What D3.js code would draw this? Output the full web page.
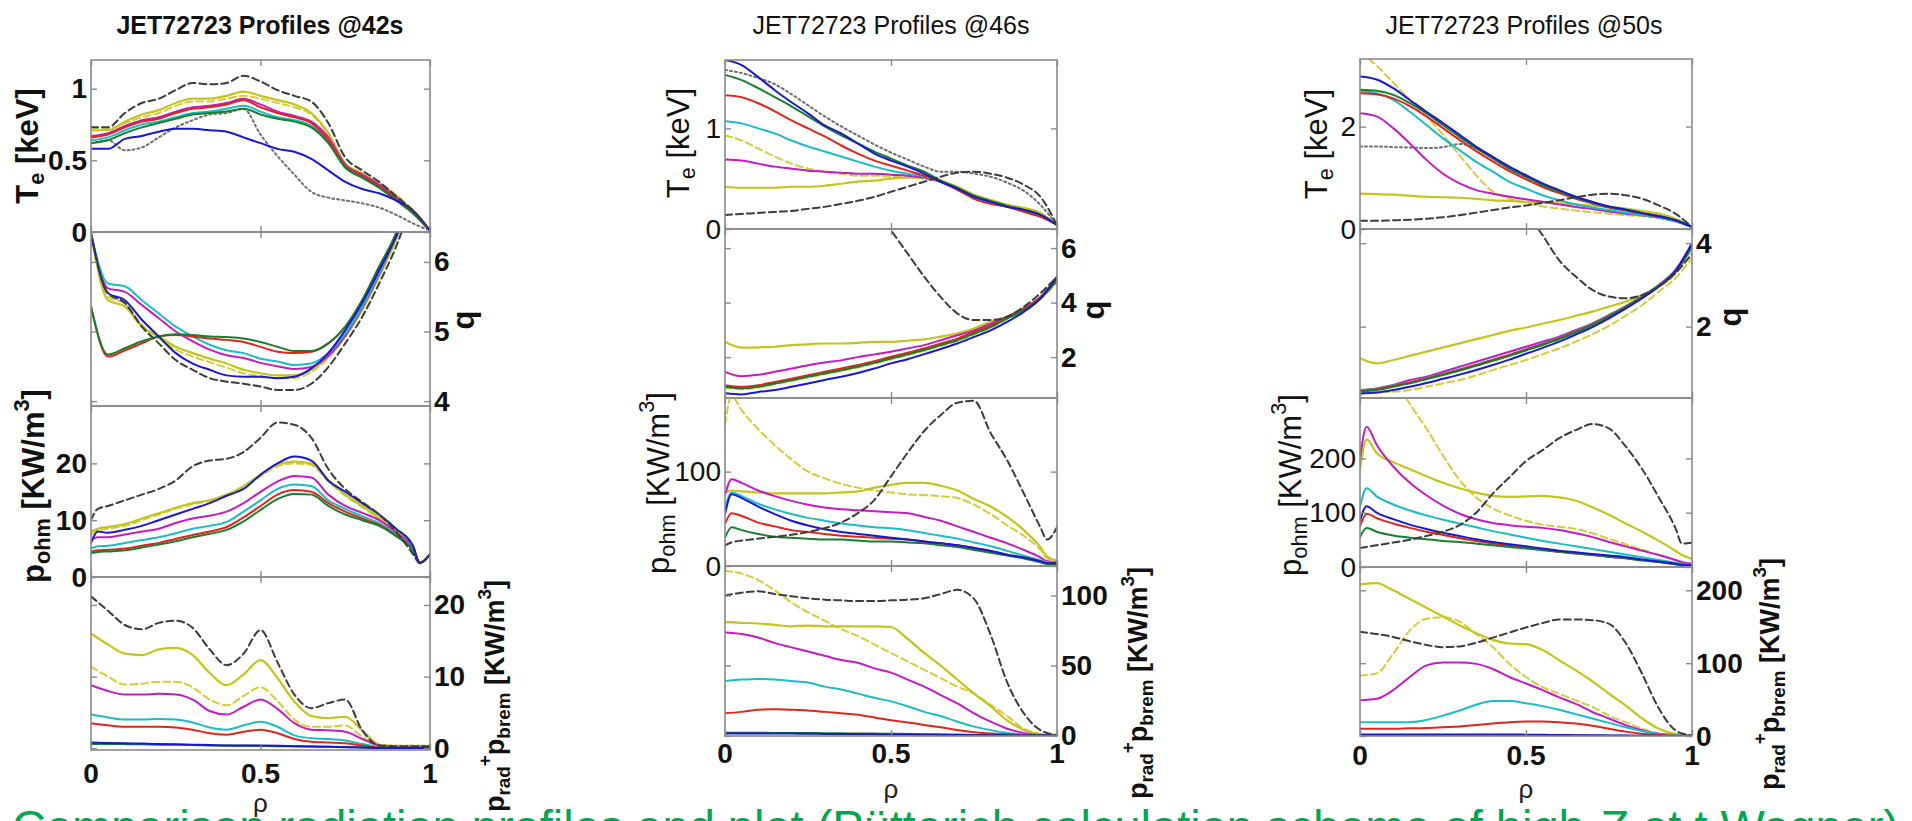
<!DOCTYPE html>
<html>
<head>
<meta charset="utf-8">
<script src="https://cdn.jsdelivr.net/npm/d3@7"></script>
<style>
  body { margin: 0; background: #fff; }
  svg { display: block; font-family: "Liberation Sans", Arial, sans-serif; }
  text { white-space: pre; }
</style>
</head>
<body>
<svg id="fig" width="1912" height="821"></svg>
<script>
// ---------- radial grids (normalised radius rho) ----------
const rhoA = [0,0.05,0.1,0.15,0.2,0.25,0.3,0.35,0.4,0.45,0.5,0.55,0.6,0.65,0.7,0.75,0.8,0.85,0.9,0.95,1];
const rhoP = [0,0.02,0.05,0.1,0.15,0.2,0.25,0.3,0.35,0.4,0.45,0.5,0.55,0.6,0.65,0.7,0.75,0.8,0.85,0.9,0.95,0.97,1];

// ---------- t = 42 s ----------
const te42 = {
  dotted:  [.62,.64,.57,.59,.66,.73,.78,.82,.83,.86,.68,.53,.40,.28,.24,.22,.20,.17,.12,.06,.01],
  ydash:   [.73,.72,.76,.80,.83,.88,.91,.91,.93,.95,.93,.90,.87,.82,.68,.47,.41,.34,.26,.15,.01],
  yellow:  [.71,.71,.77,.82,.85,.90,.93,.93,.95,.98,.95,.92,.89,.83,.69,.48,.41,.33,.25,.14,.01],
  magenta: [.67,.69,.74,.78,.80,.84,.87,.88,.90,.93,.89,.84,.81,.77,.66,.47,.40,.33,.24,.13,.01],
  cyan:    [.64,.66,.71,.75,.77,.80,.83,.84,.86,.88,.84,.80,.78,.74,.63,.45,.38,.31,.23,.13,.01],
  red:     [.66,.68,.73,.77,.79,.83,.86,.87,.89,.92,.87,.83,.80,.76,.64,.46,.39,.32,.23,.13,.01],
  green:   [.62,.64,.69,.73,.76,.79,.82,.83,.84,.86,.82,.79,.77,.73,.62,.45,.38,.31,.22,.13,.01],
  blue:    [.58,.58,.65,.67,.70,.72,.72,.71,.70,.66,.62,.58,.56,.51,.43,.35,.30,.27,.22,.15,.01],
  black:   [.73,.73,.83,.90,.93,.99,1.04,1.03,1.04,1.09,1.05,.99,.95,.91,.76,.52,.43,.35,.25,.15,.01]
};
const q42 = {
  ydash:   [6.41,5.50,5.40,5.10,4.90,4.74,4.64,4.56,4.48,4.40,4.36,4.33,4.33,4.42,4.62,4.92,5.31,5.80,6.33,7.0,7.8],
  yellow:  [6.41,5.45,5.36,5.07,4.93,4.78,4.69,4.61,4.54,4.45,4.40,4.37,4.37,4.45,4.64,4.93,5.31,5.79,6.32,7.0,7.8],
  magenta: [6.41,5.62,5.57,5.38,5.19,5.00,4.86,4.74,4.66,4.62,4.55,4.50,4.46,4.49,4.65,4.94,5.34,5.82,6.40,7.1,7.9],
  cyan:    [6.41,5.69,5.65,5.45,5.26,5.07,4.93,4.81,4.73,4.69,4.61,4.57,4.52,4.54,4.69,4.97,5.36,5.84,6.41,7.1,7.9],
  red:     [5.36,4.64,4.73,4.83,4.93,4.95,4.93,4.90,4.88,4.85,4.78,4.71,4.69,4.71,4.83,5.07,5.45,5.93,6.41,7.1,7.9],
  green:   [5.36,4.67,4.76,4.86,4.93,4.96,4.95,4.93,4.92,4.90,4.85,4.78,4.72,4.72,4.83,5.07,5.45,5.93,6.41,7.1,7.9],
  blue:    [6.41,5.55,5.45,5.17,4.93,4.69,4.54,4.45,4.37,4.35,4.35,4.33,4.35,4.47,4.69,5.02,5.41,5.88,6.36,7.0,7.8],
  black:   [6.41,5.55,5.41,5.07,4.83,4.59,4.45,4.33,4.28,4.25,4.21,4.16,4.16,4.25,4.49,4.83,5.21,5.69,6.22,6.9,7.7]
};
const pohm42 = {
  ydash:   [7.5,8.2,8.5,9,10,11,12,12.8,13.4,14.3,15.8,17.7,19.5,20,19.7,16.8,14.3,12.3,10.3,8,5.2,2.5,4],
  yellow:  [8,8.5,8.8,9.3,10.3,11.2,12.2,13,13.5,14.5,16,18,19.8,20.3,20,17,14.5,12.5,10.5,8.2,5.3,2.5,4],
  magenta: [6.5,7,7,7.5,8,8.5,9.5,10.3,10.8,11.5,13,15,16.8,17.8,17.5,14.5,12.5,11.3,10,7.8,5,2.5,4],
  cyan:    [5,5.4,5.5,6,6.5,7,7.7,8.5,9,9.7,11.5,13.5,15.5,16.3,16,13.5,12,10.7,9.5,7.5,4.8,2.5,4],
  red:     [4.5,4.7,4.8,5,5.5,6,6.7,7.4,8,8.8,10.5,12.5,14.5,15.3,15,13,11.5,10.3,9.2,7.3,4.7,2.5,4],
  green:   [4.2,4.4,4.5,4.7,5.2,5.7,6.3,7,7.6,8.3,9.8,11.8,13.7,14.6,14.5,12.5,11,10,9,7.2,4.6,2.5,4],
  blue:    [6,8,7.8,8.3,9,10,11,12,13,14.3,15.5,18,20,21.2,20.5,17,15,13,11,8.5,5.5,2.5,4],
  black:   [10,12,12.5,13.5,14.5,15.5,17,19.5,20.5,20.8,22,24.5,27.2,26.8,24.5,19,15.5,13.2,11,8,4,2.4,4]
};
const prad42 = {
  ydash:   [11.4,10,8.9,9,9.3,9.3,8.5,6.8,6,7.3,8.5,6.6,4,3,3,3.2,1.6,.5,.4,.4,.4],
  yellow:  [16,14.5,13.2,13,13.8,14,13,10.5,8.8,10.3,12.3,9.8,6.5,4.5,4.2,4.4,2.5,.5,.2,.2,.2],
  magenta: [8.8,8,7.5,7.5,7.6,7.5,6.8,5.2,4.7,5.8,6.8,5.5,3.5,2.6,2.5,2.3,1.3,.4,.2,.2,.2],
  cyan:    [4.7,4.3,4,4,4.1,4,3.6,2.9,2.6,3.2,3.7,3,1.8,1.4,1.3,1.1,.6,.2,.1,.1,.1],
  red:     [3.5,3.2,3,3,3,2.9,2.6,2.1,1.9,2.3,2.6,2.1,1.3,.9,.8,.7,.4,.1,.05,.05,.05],
  green:   [.6,.6,.58,.55,.5,.48,.45,.4,.38,.35,.33,.3,.28,.25,.22,.18,.12,.06,.05,.05,.05],
  blue:    [.8,.75,.7,.65,.6,.55,.5,.45,.4,.4,.38,.35,.3,.25,.2,.15,.1,.05,.05,.05,.05],
  black:   [21.2,19.2,17.2,16.6,17.5,17.8,16.8,13.8,11.6,13.2,16.5,12,7.5,5.6,6.3,6.8,2.5,.4,.3,.3,.3]
};

// ---------- t = 46 s ----------
const te46 = {
  dotted:  [1.58,1.55,1.50,1.44,1.34,1.23,1.12,1.02,.93,.84,.76,.69,.62,.57,.57,.55,.52,.46,.38,.24,.04],
  ydash:   [.93,.88,.80,.72,.65,.60,.57,.55,.53,.53,.52,.52,.50,.47,.41,.33,.28,.24,.20,.14,.04],
  yellow:  [.42,.41,.41,.41,.42,.42,.43,.45,.47,.48,.50,.51,.51,.48,.42,.34,.29,.24,.21,.16,.04],
  magenta: [.69,.68,.65,.62,.60,.58,.57,.56,.55,.55,.54,.53,.51,.47,.40,.32,.27,.23,.19,.14,.04],
  cyan:    [1.07,1.05,1.0,.95,.88,.82,.77,.72,.67,.62,.58,.55,.52,.47,.40,.31,.26,.22,.18,.13,.04],
  red:     [1.33,1.31,1.25,1.17,1.08,1.0,.92,.83,.75,.68,.63,.58,.53,.47,.39,.30,.25,.22,.17,.12,.04],
  green:   [1.53,1.48,1.40,1.31,1.22,1.12,1.02,.93,.85,.77,.70,.63,.57,.48,.41,.33,.28,.23,.19,.14,.04],
  blue:    [1.68,1.63,1.51,1.38,1.26,1.15,1.03,.95,.85,.75,.68,.62,.55,.47,.40,.32,.27,.22,.19,.14,.04],
  black:   [.14,.15,.16,.17,.18,.20,.22,.25,.28,.32,.37,.42,.47,.52,.56,.57,.55,.51,.44,.32,.04]
};
const q46 = {
  ydash:   [.88,.82,.88,1.00,1.12,1.25,1.37,1.49,1.62,1.76,1.92,2.07,2.23,2.41,2.59,2.83,3.07,3.39,3.69,4.12,4.75],
  yellow:  [2.56,2.35,2.36,2.38,2.44,2.47,2.50,2.50,2.52,2.56,2.56,2.60,2.65,2.75,2.87,3.05,3.30,3.48,3.79,4.20,4.95],
  magenta: [1.46,1.30,1.35,1.46,1.58,1.70,1.80,1.88,2.00,2.10,2.20,2.32,2.44,2.62,2.80,2.98,3.23,3.48,3.79,4.20,4.80],
  cyan:    [.94,.88,.94,1.06,1.18,1.31,1.43,1.55,1.68,1.82,1.98,2.13,2.29,2.47,2.65,2.89,3.13,3.45,3.75,4.18,4.85],
  red:     [.97,.91,.97,1.09,1.21,1.34,1.46,1.58,1.71,1.85,2.01,2.16,2.32,2.50,2.68,2.92,3.16,3.48,3.78,4.20,4.90],
  green:   [.91,.85,.91,1.03,1.15,1.28,1.40,1.52,1.65,1.79,1.95,2.10,2.26,2.44,2.62,2.86,3.10,3.42,3.72,4.15,4.80],
  blue:    [.67,.63,.72,.79,.91,1.03,1.16,1.28,1.42,1.58,1.77,1.92,2.11,2.30,2.50,2.74,2.98,3.29,3.66,4.15,4.95],
  black:   [null,null,null,null,null,null,null,null,null,7.6,6.66,5.8,4.95,4.2,3.6,3.36,3.36,3.48,3.85,4.34,4.95]
};
const pohm46 = {
  ydash:   [150,180,165,145,128,113,100,93,87,83,80,78,76,75,74,72,65,55,43,32,17,8,5],
  yellow:  [78,80,79,78,77,77,77,77,78,79,83,86,88,88,85,80,71,63,52,38,20,10,6],
  magenta: [75,92,88,80,74,69,65,62,60,59,58,57,56,52,48,42,36,30,24,17,9,5,4],
  cyan:    [60,78,74,66,60,55,51,48,45,43,41,40,38,35,32,29,25,21,16,11,6,4,4],
  red:     [45,56,53,46,42,38,36,34,32,31,30,29,28,26,24,22,19,16,12,9,5,3,3],
  green:   [30,41,38,34,31,30,29,28,28,27,26,26,25,24,22,20,17,14,11,8,4,2,2],
  blue:    [55,76,72,63,55,48,43,39,36,34,32,30,28,26,24,22,19,16,12,9,5,3,3],
  black:   [22,25,27,29,31,33,36,40,46,56,70,95,120,143,160,173,175,141,112,77,41,28,41]
};
const prad46 = {
  ydash:   [117.5,115.6,111,103.6,95,88,82,76,71,65,59,53,47,41,35,30,22,14,5,1.5,.5],
  yellow:  [81,80.5,80,79,78,78.5,78,78,78,78,77.5,69,59,50,40,30,21,11,4,1,.5],
  magenta: [73.6,72.5,70,66,63,60,57,54,52,48,45,40,35,29,23,16,10,5,2,.5,.3],
  cyan:    [39,40,40.5,40,39,38,35,33,30,27,24.5,21,17,14,10,6.5,4,2,1,.5,.3],
  red:     [16,17,18.5,18.8,18.5,18,17,16,15,13,11,9.5,7.7,6,4,2.5,1.5,1,.5,.3,.2],
  green:   [2.2,2.2,2.1,2,2,1.9,1.8,1.7,1.6,1.5,1.4,1.3,1.1,1,.8,.6,.4,.3,.2,.1,.1],
  blue:    [1.5,1.5,1.5,1.5,1.5,1.4,1.3,1.2,1.1,1,.9,.8,.7,.6,.5,.4,.3,.2,.1,.1,.1],
  black:   [100,102,103,101,99.5,98,97,96.5,96,96,96.5,97,98,101,104,97.6,72,38,16,4,.5]
};

// ---------- t = 50 s ----------
const te50 = {
  dotted:  [1.61,1.61,1.60,1.59,1.58,1.60,1.66,1.58,1.38,1.18,1.02,.86,.73,.61,.52,.44,.38,.32,.26,.18,.04],
  ydash:   [3.45,3.19,2.86,2.52,2.20,1.84,1.44,1.05,.73,.59,.51,.44,.40,.36,.33,.30,.27,.25,.22,.16,.04],
  yellow:  [.69,.68,.67,.65,.63,.62,.61,.59,.56,.55,.53,.52,.50,.48,.46,.43,.40,.35,.30,.20,.04],
  magenta: [2.26,2.20,1.97,1.67,1.35,1.08,.89,.76,.69,.63,.58,.53,.48,.43,.39,.34,.30,.27,.22,.15,.04],
  cyan:    [2.69,2.65,2.52,2.29,2.03,1.77,1.54,1.31,1.12,.92,.79,.66,.56,.48,.42,.37,.32,.27,.22,.15,.04],
  red:     [2.65,2.63,2.55,2.40,2.20,1.97,1.74,1.52,1.32,1.13,.97,.82,.70,.59,.50,.42,.36,.30,.24,.17,.04],
  green:   [2.72,2.70,2.62,2.46,2.26,2.03,1.80,1.58,1.38,1.18,1.02,.86,.73,.61,.51,.43,.37,.31,.25,.17,.04],
  blue:    [2.98,2.92,2.75,2.52,2.29,2.07,1.84,1.61,1.41,1.22,1.05,.89,.76,.63,.53,.44,.38,.31,.25,.17,.04],
  black:   [.16,.16,.17,.18,.20,.23,.27,.32,.37,.42,.46,.51,.56,.62,.67,.69,.66,.59,.46,.30,.04]
};
const q50 = {
  ydash:   [.40,.42,.44,.48,.56,.64,.72,.83,.96,1.08,1.20,1.34,1.48,1.64,1.82,2.02,2.26,2.52,2.84,3.16,3.65],
  yellow:  [1.24,1.12,1.20,1.30,1.40,1.50,1.60,1.70,1.80,1.90,1.98,2.07,2.16,2.26,2.36,2.48,2.60,2.76,2.96,3.28,3.91],
  magenta: [.48,.52,.60,.72,.80,.92,1.04,1.16,1.28,1.40,1.52,1.64,1.76,1.92,2.08,2.28,2.48,2.72,3.00,3.36,3.99],
  cyan:    [.47,.51,.59,.67,.77,.87,.98,1.09,1.21,1.33,1.46,1.59,1.73,1.89,2.07,2.27,2.49,2.73,3.00,3.34,3.92],
  red:     [.46,.50,.58,.66,.76,.86,.97,1.08,1.20,1.32,1.45,1.58,1.72,1.88,2.06,2.26,2.48,2.72,2.98,3.33,3.95],
  green:   [.44,.48,.56,.64,.74,.84,.95,1.06,1.18,1.30,1.43,1.56,1.70,1.86,2.04,2.24,2.46,2.70,2.97,3.32,3.90],
  blue:    [.40,.42,.48,.56,.65,.75,.85,.96,1.08,1.21,1.35,1.49,1.64,1.81,1.99,2.20,2.43,2.68,2.96,3.33,4.00],
  black:   [null,null,null,null,null,null,null,null,null,null,4.75,4.19,3.59,3.20,2.88,2.72,2.68,2.76,2.96,3.28,3.75]
};
const pohm50 = {
  ydash:   [420,400,390,350,300,255,205,160,128,108,95,85,78,74,70,62,52,42,32,22,12,8,6],
  yellow:  [180,235,210,193,180,167,155,145,137,131,129,130,131,128,122,110,96,80,65,48,30,22,15],
  magenta: [200,258,225,185,155,132,113,98,88,81,77,74,72,68,62,55,46,38,30,22,13,9,6],
  cyan:    [110,145,130,115,104,95,87,80,73,66,60,54,48,43,38,33,28,23,18,13,8,6,4],
  red:     [75,98,90,80,72,65,59,53,48,43,39,35,32,28,25,22,19,16,13,9,5,4,3],
  green:   [55,72,65,58,54,51,48,46,43,40,37,34,31,28,25,22,19,16,12,9,5,3,2],
  blue:    [85,112,100,88,78,70,63,57,51,46,42,38,34,30,27,24,21,18,14,10,6,4,3],
  black:   [35,37,40,45,50,57,65,77,100,135,165,195,215,237,252,263,255,222,180,128,72,43,45]
};
const prad50 = {
  ydash:   [83,86,113,145,161,163,157,140,122,99,81,67,58,49,40,28,19,10,3,1,.5],
  yellow:  [208,210,200,188,176,164,152,141,132,127,126,118,104,90,75,58,42,24,10,3,1],
  magenta: [49,51,63,81,97,101,101,99,92,81,72,63,53,44,33,24,15,8,3,1,.5],
  cyan:    [19,19,19,19,22,28,35,43,48,48,45,41,36,30,24,18,12,7,3,1,.5],
  red:     [10,10,10,10.5,11,12,13,15,17,19,20,20,19,17,14,10,6,3,1.5,.5,.3],
  green:   [1,1,1,1,1,1,1,1,1,1,.9,.8,.7,.6,.5,.4,.3,.2,.1,.1,.1],
  blue:    [2,2,2,2,2,2,2,2,2,2,1.8,1.6,1.4,1.2,1,.8,.6,.4,.2,.1,.1],
  black:   [143,140,136,130,125,122,123,128,135,142,149,155,160,160,159,154,128,85,38,8,.5]
};

// ---------- tick values ----------
const teTicks42 = [0, 0.5, 1],  qTicks42 = [4, 5, 6],  pohmTicks42 = [0, 10, 20],  pradTicks42 = [0, 10, 20];
const teTicks46 = [0, 1],       qTicks46 = [2, 4, 6],  pohmTicks46 = [0, 100],     pradTicks46 = [0, 50, 100];
const teTicks50 = [0, 2],       qTicks50 = [2, 4],     pohmTicks50 = [0, 100, 200], pradTicks50 = [0, 100, 200];
const rhoTicks = [0, 0.5, 1];
const titles = ["JET72723 Profiles @42s", "JET72723 Profiles @46s", "JET72723 Profiles @50s"];

// ---------- line styles ----------
const drawOrder = ["dotted", "ydash", "yellow", "magenta", "cyan", "red", "green", "blue", "black"];
const styles = {
  dotted:  { color: "#6e6e6e", dash: "2,3",  width: 2 },
  ydash:   { color: "#d4cc3a", dash: "7,4",  width: 2 },
  yellow:  { color: "#c4c41c", dash: null,   width: 2.2 },
  magenta: { color: "#c21cc2", dash: null,   width: 2 },
  cyan:    { color: "#1cbcc4", dash: null,   width: 2 },
  red:     { color: "#e0261c", dash: null,   width: 2 },
  green:   { color: "#1a7e2e", dash: null,   width: 2 },
  blue:    { color: "#1818d0", dash: null,   width: 2 },
  black:   { color: "#3c3c3c", dash: "7,4",  width: 2 }
};

// ---------- layout ----------
const cols = [
  { x0: 91,   x1: 430,  top: 60, bottoms: [232, 406, 577, 750], bold: true,
    domains: [[0, 1.2], [3.93, 6.43], [0, 30.1], [-0.24, 23.9]],
    data: [te42, q42, pohm42, prad42], ticks: [teTicks42, qTicks42, pohmTicks42, pradTicks42],
    tickY: 783, rhoY: 812, titleX: 260,
    teLab: [27, 146], qLab: [463, 320], pohmLab: [33, 486], pradLab: [495, 696] },
  { x0: 725,  x1: 1057, top: 60, bottoms: [229, 398, 566, 736], bold: false,
    domains: [[0, 1.68], [0.5, 6.7], [0, 178], [-0.2, 121]],
    data: [te46, q46, pohm46, prad46], ticks: [teTicks46, qTicks46, pohmTicks46, pradTicks46],
    tickY: 763, rhoY: 798, titleX: 891,
    teLab: [678, 143], qLab: [1093, 310], pohmLab: [658, 483], pradLab: [1138, 683] },
  { x0: 1360, x1: 1692, top: 59, bottoms: [229, 398, 567, 736], bold: false,
    domains: [[0, 3.32], [0.29, 4.34], [0, 311], [0, 232]],
    data: [te50, q50, pohm50, prad50], ticks: [teTicks50, qTicks50, pohmTicks50, pradTicks50],
    tickY: 765, rhoY: 798, titleX: 1524,
    teLab: [1316, 144], qLab: [1730, 317], pohmLab: [1290, 485], pradLab: [1770, 674] }
];
const panelSide = ["left", "right", "left", "right"];
const panelGrid = [rhoA, rhoA, rhoP, rhoA];
const tickFont = 28;

const svg = d3.select("#fig");
const frameColor = "#8a8a8a";

// rotated label with sub/superscripts; parts = [[text, kind]]
function richLabel(x, y, parts, size, weight) {
  const t = svg.append("text")
    .attr("transform", `translate(${x},${y}) rotate(-90)`)
    .attr("text-anchor", "middle")
    .attr("dominant-baseline", "central")
    .attr("font-size", size)
    .attr("font-weight", weight)
    .attr("fill", "#111");
  let shift = 0;
  parts.forEach(([s, kind]) => {
    const target = kind === "sub" ? size * 0.28 : kind === "sup" ? -size * 0.4 : 0;
    t.append("tspan")
      .attr("dy", target - shift)
      .attr("font-size", kind === "n" ? size : size * 0.7)
      .text(s);
    shift = target;
  });
}

cols.forEach((c, ci) => {
  const x = d3.scaleLinear().domain([0, 1]).range([c.x0, c.x1]);
  const weight = c.bold ? "bold" : "normal";

  // title
  svg.append("text").attr("x", c.titleX).attr("y", 34)
    .attr("text-anchor", "middle").attr("font-size", 25)
    .attr("font-weight", ci === 0 ? "bold" : "normal").attr("fill", "#111")
    .text(titles[ci]);

  c.bottoms.forEach((bottom, pi) => {
    const ptop = pi === 0 ? c.top : c.bottoms[pi - 1];
    const y = d3.scaleLinear().domain(c.domains[pi]).range([bottom, ptop]);
    const g = svg.append("g");
    const clipId = `clip-${ci}-${pi}`;
    svg.append("clipPath").attr("id", clipId).append("rect")
      .attr("x", c.x0).attr("y", ptop).attr("width", c.x1 - c.x0).attr("height", bottom - ptop);

    // curves
    const grid = panelGrid[pi];
    const line = d3.line()
      .defined(v => v[1] !== null)
      .x(v => x(v[0])).y(v => y(v[1]))
      .curve(d3.curveMonotoneX);
    const lines = g.append("g").attr("clip-path", `url(#${clipId})`);
    drawOrder.forEach(k => {
      const vals = c.data[pi][k];
      if (!vals) return;
      const st = styles[k];
      lines.append("path")
        .datum(grid.map((r, i) => [r, vals[i]]))
        .attr("d", line)
        .attr("fill", "none")
        .attr("stroke", st.color)
        .attr("stroke-width", st.width)
        .attr("stroke-dasharray", st.dash)
        .attr("stroke-linejoin", "round")
        .attr("stroke-linecap", "round");
    });

    // frame
    g.append("rect").attr("x", c.x0).attr("y", ptop)
      .attr("width", c.x1 - c.x0).attr("height", bottom - ptop)
      .attr("fill", "none").attr("stroke", frameColor).attr("stroke-width", 1.6);

    // y ticks on both edges, labels on one side
    const side = panelSide[pi];
    const ticks = c.ticks[pi];
    const axisL = d3.axisLeft(y).tickValues(ticks).tickSize(-6).tickFormat("");
    const axisR = d3.axisRight(y).tickValues(ticks).tickSize(-6).tickFormat("");
    [[axisL, c.x0], [axisR, c.x1]].forEach(([ax, xp]) => {
      const a = g.append("g").attr("transform", `translate(${xp},0)`).call(ax);
      a.select(".domain").remove();
      a.selectAll("line").attr("stroke", frameColor).attr("stroke-width", 1.4);
    });
    ticks.forEach(tv => {
      const isLeft = side === "left";
      g.append("text")
        .attr("x", isLeft ? c.x0 - 4 : c.x1 + 4)
        .attr("y", y(tv))
        .attr("text-anchor", isLeft ? "end" : "start")
        .attr("dominant-baseline", "central")
        .attr("font-size", tickFont)
        .attr("font-weight", isLeft ? weight : "bold")
        .attr("fill", "#111")
        .text(d3.format("~g")(tv));
    });

    // rho ticks on top and bottom edges
    const axT = d3.axisTop(x).tickValues(rhoTicks).tickSize(-6).tickFormat("");
    const axB = d3.axisBottom(x).tickValues(rhoTicks).tickSize(-6).tickFormat("");
    [[axT, ptop], [axB, bottom]].forEach(([ax, yp]) => {
      const a = g.append("g").attr("transform", `translate(0,${yp})`).call(ax);
      a.select(".domain").remove();
      a.selectAll("line").attr("stroke", frameColor).attr("stroke-width", 1.4);
    });
  });

  // rho tick labels and axis title
  rhoTicks.forEach(tv => {
    svg.append("text").attr("x", x(tv)).attr("y", c.tickY)
      .attr("text-anchor", "middle").attr("font-size", tickFont).attr("font-weight", "bold")
      .attr("fill", "#111").text(d3.format("~g")(tv));
  });
  svg.append("text").attr("x", x(0.5)).attr("y", c.rhoY)
    .attr("text-anchor", "middle").attr("font-size", 26).attr("fill", "#222").text("ρ");

  // axis labels
  richLabel(c.teLab[0], c.teLab[1], [["T", "n"], ["e", "sub"], [" [keV]", "n"]], 31, weight);
  richLabel(c.pohmLab[0], c.pohmLab[1], [["p", "n"], ["ohm", "sub"], [" [KW/m", "n"], ["3", "sup"], ["]", "n"]], 31, weight);
  richLabel(c.pradLab[0], c.pradLab[1], [["p", "n"], ["rad", "sub"], ["+", "sup"], ["p", "n"], ["brem", "sub"], [" [KW/m", "n"], ["3", "sup"], ["]", "n"]], 27, "bold");
  svg.append("text")
    .attr("transform", `translate(${c.qLab[0]},${c.qLab[1]}) rotate(-90)`)
    .attr("text-anchor", "middle").attr("dominant-baseline", "central")
    .attr("font-size", 31).attr("font-weight", "bold").attr("fill", "#111").text("q");
});

// caption line running off the bottom edge
svg.append("text").attr("x", 12).attr("y", 843)
  .attr("font-size", 47).attr("fill", "#00a650")
  .text("Comparison radiation profiles and plot (Pütterich calculation scheme of high-Z at t Wagner)");
</script>
</body>
</html>
